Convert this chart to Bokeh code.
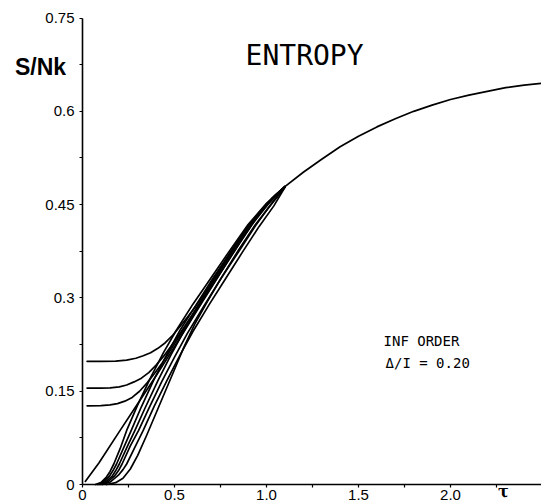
from bokeh.plotting import figure
from bokeh.models import FixedTicker, Label, Range1d
from bokeh.embed import file_html
from bokeh.resources import INLINE

# ---- data (tau, S/Nk) ----
# low-temperature parts of the individual curves (all join the common tail at tau = 1.1)
L_tau = [0.015, 0.09, 0.2, 0.3, 0.4, 0.48, 0.56, 0.65, 0.75, 0.85, 0.95, 1.03, 1.1]
L_s   = [0.005, 0.035, 0.085, 0.13, 0.175, 0.212, 0.25, 0.293, 0.34, 0.387, 0.43, 0.46, 0.479]

P1_tau = [0.025, 0.1, 0.18, 0.24, 0.29, 0.33, 0.37, 0.41, 0.45, 0.49, 0.53, 0.57, 0.614,
          0.66, 0.7, 0.75, 0.8, 0.85, 0.9, 0.95, 1.0, 1.05, 1.1]
P1_s   = [0.198, 0.198, 0.1985, 0.2, 0.203, 0.207, 0.212, 0.219, 0.228, 0.24, 0.254, 0.269, 0.286,
          0.306, 0.324, 0.348, 0.371, 0.394, 0.415, 0.434, 0.451, 0.466, 0.479]

P2_tau = [0.025, 0.1, 0.15, 0.2, 0.24, 0.28, 0.32, 0.36, 0.4, 0.44, 0.48, 0.525, 0.57, 0.62,
          0.67, 0.72, 0.77, 0.82, 0.87, 0.92, 0.97, 1.03, 1.1]
P2_s   = [0.155, 0.155, 0.1555, 0.157, 0.16, 0.165, 0.171, 0.18, 0.192, 0.206, 0.222, 0.241, 0.261, 0.284,
          0.307, 0.331, 0.355, 0.378, 0.4, 0.421, 0.44, 0.46, 0.479]

P3_tau = [0.025, 0.1, 0.15, 0.19, 0.23, 0.27, 0.31, 0.35, 0.39, 0.43, 0.47, 0.51, 0.55, 0.6,
          0.65, 0.7, 0.75, 0.8, 0.85, 0.9, 0.95, 1.0, 1.05, 1.1]
P3_s   = [0.1265, 0.127, 0.128, 0.13, 0.134, 0.14, 0.15, 0.163, 0.178, 0.194, 0.212, 0.231, 0.25, 0.273,
          0.297, 0.321, 0.345, 0.368, 0.391, 0.412, 0.432, 0.449, 0.465, 0.479]

G1_tau = [0.07, 0.1, 0.13, 0.15, 0.17, 0.205, 0.24, 0.3, 0.37, 0.44, 0.51, 0.6, 0.7, 0.8, 0.9, 1.0, 1.1]
G1_s   = [0.0, 0.003, 0.012, 0.021, 0.033, 0.058, 0.087, 0.128, 0.172, 0.212, 0.248, 0.29, 0.333, 0.376, 0.418, 0.452, 0.479]

G2_tau = [0.08, 0.11, 0.145, 0.165, 0.185, 0.225, 0.265, 0.32, 0.39, 0.46, 0.53, 0.62, 0.71, 0.81, 0.91, 1.0, 1.1]
G2_s   = [0.0, 0.003, 0.013, 0.022, 0.033, 0.06, 0.087, 0.125, 0.17, 0.21, 0.248, 0.29, 0.332, 0.376, 0.418, 0.45, 0.479]

G3_tau = [0.09, 0.12, 0.16, 0.18, 0.2, 0.245, 0.285, 0.34, 0.41, 0.48, 0.55, 0.64, 0.73, 0.83, 0.92, 1.01, 1.1]
G3_s   = [0.0, 0.003, 0.013, 0.022, 0.033, 0.062, 0.087, 0.123, 0.167, 0.208, 0.246, 0.29, 0.332, 0.377, 0.418, 0.451, 0.479]

G4_tau = [0.1, 0.135, 0.175, 0.195, 0.215, 0.26, 0.305, 0.36, 0.43, 0.5, 0.57, 0.66, 0.75, 0.85, 0.94, 1.02, 1.1]
G4_s   = [0.0, 0.004, 0.014, 0.022, 0.033, 0.062, 0.087, 0.122, 0.165, 0.205, 0.243, 0.287, 0.33, 0.375, 0.416, 0.449, 0.478]

G5_tau = [0.11, 0.15, 0.195, 0.22, 0.24, 0.285, 0.33, 0.39, 0.46, 0.53, 0.6, 0.69, 0.78, 0.87, 0.96, 1.04, 1.1]
G5_s   = [0.0, 0.004, 0.015, 0.024, 0.033, 0.06, 0.087, 0.126, 0.168, 0.208, 0.246, 0.29, 0.332, 0.374, 0.415, 0.448, 0.478]

G6_tau = [0.13, 0.18, 0.22, 0.26, 0.3, 0.35, 0.4, 0.45, 0.5, 0.55, 0.61, 0.68, 0.76, 0.85, 0.94, 1.03, 1.1]
G6_s   = [0.0, 0.003, 0.01, 0.025, 0.047, 0.08, 0.115, 0.15, 0.185, 0.22, 0.258, 0.295, 0.335, 0.378, 0.418, 0.452, 0.478]

# common high-temperature tail
T_tau = [1.1, 1.2, 1.3, 1.4, 1.5, 1.6, 1.7, 1.8, 1.9, 2.0, 2.1, 2.2, 2.3, 2.4, 2.495]
T_s   = [0.479, 0.502, 0.523, 0.543, 0.56, 0.575, 0.588, 0.6, 0.61, 0.619, 0.626, 0.632, 0.638, 0.642, 0.645]

y_ticks = [0, 0.15, 0.3, 0.45, 0.6, 0.75]
y_tick_labels = ["0", "0.15", "0.3", "0.45", "0.6", "0.75"]
y_minor = [0.075, 0.225, 0.375, 0.525, 0.675]
x_ticks = [0, 0.5, 1.0, 1.5, 2.0]
x_tick_labels = ["0", "0.5", "1.0", "1.5", "2.0"]
x_minor = [0.25, 0.75, 1.25, 1.75, 2.25]

title_text = "ENTROPY"
y_title = "S/Nk"
x_title = "τ"
note1 = "INF ORDER"
note2 = "Δ/I = 0.20"

# ---- figure: frame fills the canvas, axes are pinned at tau = 0 and S = 0 ----
p = figure(width=541, height=502, output_backend="svg", toolbar_location=None,
           x_range=Range1d(-0.4457, 2.4946), y_range=Range1d(-0.0289, 0.7782),
           min_border_left=0, min_border_right=0, min_border_top=0, min_border_bottom=0)
p.outline_line_color = None
p.xgrid.visible = False
p.ygrid.visible = False
p.background_fill_color = "white"
p.border_fill_color = "white"

curves = [(L_tau, L_s), (P1_tau, P1_s), (P2_tau, P2_s), (P3_tau, P3_s),
          (G1_tau, G1_s), (G2_tau, G2_s), (G3_tau, G3_s), (G4_tau, G4_s),
          (G5_tau, G5_s), (G6_tau, G6_s), (T_tau, T_s)]
for xs, ys in curves:
    p.line(xs, ys, line_color="black", line_width=1.7, line_join="round", line_cap="round")

# axes
for ax in (p.xaxis[0], p.yaxis[0]):
    ax.fixed_location = 0
    ax.axis_line_color = "black"
    ax.axis_line_width = 1.6
    ax.major_tick_line_color = "black"
    ax.minor_tick_line_color = "black"
    ax.major_tick_line_width = 1.2
    ax.minor_tick_line_width = 1.2
    ax.major_tick_in = 0
    ax.minor_tick_in = 0
    ax.major_tick_out = 3
    ax.minor_tick_out = 3
    ax.major_label_text_font = "Liberation Sans"
    ax.major_label_text_font_size = "15px"
    ax.major_label_text_color = "black"

p.xaxis.bounds = (0, 2.4946)
p.yaxis.bounds = (0, 0.75)
p.yaxis.ticker = FixedTicker(ticks=y_ticks, minor_ticks=y_minor)
p.yaxis.major_label_overrides = {t: l for t, l in zip(y_ticks, y_tick_labels)}
p.yaxis.major_label_standoff = 5
p.xaxis.ticker = FixedTicker(ticks=x_ticks, minor_ticks=x_minor)
p.xaxis.major_label_overrides = {t: l for t, l in zip(x_ticks, x_tick_labels)}
p.xaxis.major_label_standoff = 2

# texts
p.add_layout(Label(x=1.207, y=0.69, text=title_text, text_align="center", text_baseline="middle",
                   text_font="DejaVu Sans Mono", text_font_size="28px", text_color="black"))
p.add_layout(Label(x=-0.228, y=0.672, text=y_title, text_align="center", text_baseline="middle",
                   text_font="Liberation Sans", text_font_style="bold", text_font_size="23px",
                   text_color="black"))
p.add_layout(Label(x=2.288, y=-0.0113, text=x_title, text_align="center", text_baseline="middle",
                   text_font="DejaVu Serif", text_font_style="bold", text_font_size="16px",
                   text_color="black"))
p.add_layout(Label(x=1.636, y=0.2315, text=note1, text_align="left", text_baseline="middle",
                   text_font="DejaVu Sans Mono", text_font_size="14px", text_color="black"))
p.add_layout(Label(x=1.647, y=0.196, text=note2, text_align="left", text_baseline="middle",
                   text_font="DejaVu Sans Mono", text_font_size="14px", text_color="black"))

open("out.html", "w").write(file_html(p, INLINE))
